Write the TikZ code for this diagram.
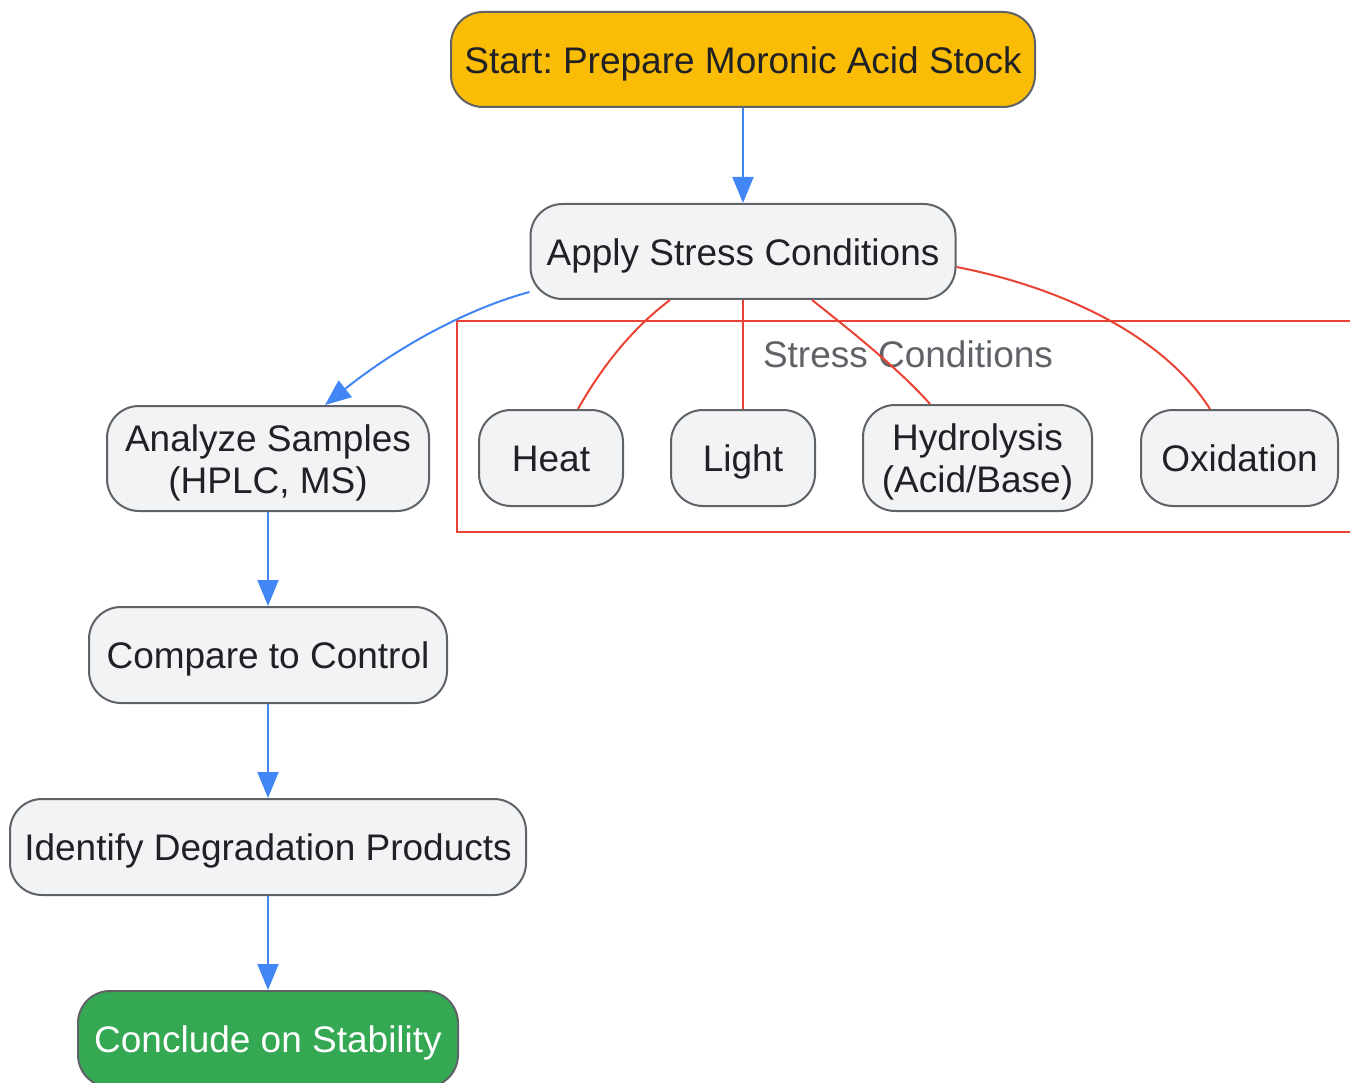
\documentclass[tikz,border=0pt]{standalone}
\usepackage{fontspec}
\setmainfont{Liberation Sans}
\usetikzlibrary{arrows.meta,calc}
\frenchspacing
\definecolor{gyellow}{HTML}{FBBC05}
\definecolor{ggreen}{HTML}{34A853}
\definecolor{gfill}{HTML}{F1F3F4}
\definecolor{gstroke}{HTML}{5F6368}
\definecolor{gtext}{HTML}{202124}
\definecolor{gblue}{HTML}{4285F4}
\definecolor{gred}{HTML}{EA4335}
\newcommand{\boxtext}[1]{\raisebox{-5.5pt}[\height][\depth]{\begin{tabular}{@{}c@{}}#1\end{tabular}}}
\tikzset{
  box/.style={draw=gstroke, line width=2pt, fill=gfill, rounded corners=32pt,
    inner sep=0pt, text=gtext,
    font=\fontsize{37}{42}\selectfont},
  flow/.style={draw=gblue, line width=2pt, -{Triangle[length=26pt,width=21pt]}},
  stress/.style={draw=gred, line width=2pt},
  clusterbox/.style={draw=gred, line width=2pt},
  clusterlabel/.style={text=gstroke, font=\fontsize{37}{42}\selectfont, inner sep=0pt}
}
\begin{document}
\begin{tikzpicture}[x=1pt,y=-1pt]
\useasboundingbox (0,0) rectangle (1350,1083);
% cluster
\draw[clusterbox] (1360,321) -- (457,321) -- (457,532) -- (1360,532);
\node[clusterlabel] (clab) at (908,354) {Stress Conditions};
% nodes
\node[box, fill=gyellow, minimum width=584pt, minimum height=95pt] (start) at (743,59.5) {\boxtext{Start: Prepare Moronic Acid Stock}};
\node[box, minimum width=425pt, minimum height=95pt] (apply) at (743,251.5) {\boxtext{Apply Stress Conditions}};
\node[box, minimum width=322pt, minimum height=105pt] (analyze) at (268,458.5) {\boxtext{Analyze Samples\\(HPLC, MS)}};
\node[box, minimum width=358pt, minimum height=96pt] (compare) at (268,655) {\boxtext{Compare to Control}};
\node[box, minimum width=516pt, minimum height=96pt] (identify) at (268,847) {\boxtext{Identify Degradation Products}};
\node[box, fill=ggreen, text=white, minimum width=380pt, minimum height=96pt] (conclude) at (268,1039) {\boxtext{Conclude on Stability}};
\node[box, minimum width=144pt, minimum height=96pt] (heat) at (551,458) {\boxtext{Heat}};
\node[box, minimum width=144pt, minimum height=96pt] (light) at (743,458) {\boxtext{Light}};
\node[box, minimum width=229pt, minimum height=106pt] (hydro) at (977.5,458) {\boxtext{Hydrolysis\\(Acid/Base)}};
\node[box, minimum width=197pt, minimum height=96pt] (oxid) at (1239.5,458) {\boxtext{Oxidation}};
% flow edges
\draw[flow] (start) -- (apply);
\draw[flow] ($(apply.south west)+(0,-8)$) .. controls (470,308) and (400,345) .. ($(analyze.north)+(57,0)$);
\draw[flow] (analyze) -- (compare);
\draw[flow] (compare) -- (identify);
\draw[flow] (identify) -- (conclude);
% stress edges
\draw[stress] ($(apply.south)+(-73,0)$) .. controls (630,330) and (600,370) .. ($(heat.north)+(27,0)$);
\draw[stress] (apply) -- (light);
\draw[stress] ($(apply.south)+(69,0)$) .. controls (850,330) and (900,370) .. ($(hydro.north)+(-47.5,0)$);
\draw[stress] ($(apply.east)+(0,15.5)$) .. controls (1050,285) and (1160,330) .. ($(oxid.north)+(-29.5,0)$);
\end{tikzpicture}
\end{document}
